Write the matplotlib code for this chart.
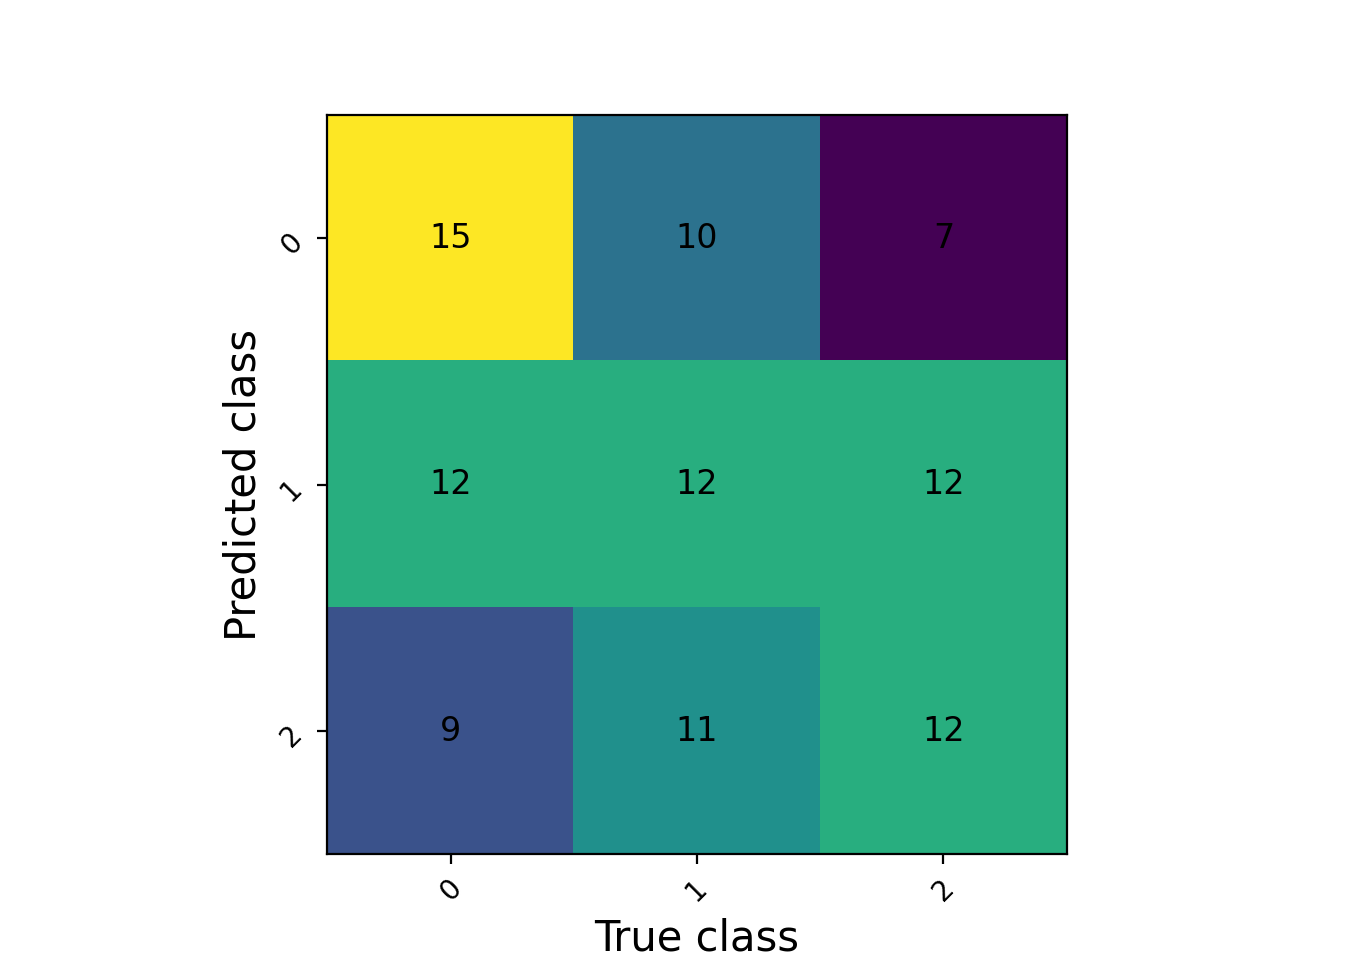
import matplotlib
matplotlib.use("Agg")
import matplotlib.pyplot as plt
import numpy as np

classes = ["0", "1", "2"]
matrix = [[15, 10, 7],
          [12, 12, 12],
          [9, 11, 12]]

data = np.array(matrix)
fig, ax = plt.subplots(figsize=(6.8, 4.8), dpi=200)
ax.imshow(data, cmap="viridis")
ax.set_xticks(range(len(classes)))
ax.set_xticklabels(classes, rotation=45)
ax.set_yticks(range(len(classes)))
ax.set_yticklabels(classes, rotation=45)
for i in range(data.shape[0]):
    for j in range(data.shape[1]):
        ax.text(j, i, str(data[i, j]), ha="center", va="center", color="black", fontsize=12)
ax.set_xlabel("True class", fontsize=15)
ax.set_ylabel("Predicted class", fontsize=15)
fig.savefig("out.png")
